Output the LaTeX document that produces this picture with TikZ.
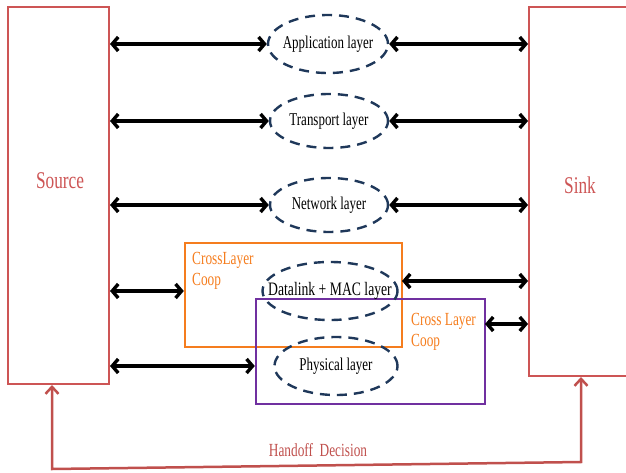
\documentclass[tikz,border=0pt]{standalone}
\usepackage{fontspec}
\setmainfont[FakeStretch=0.72]{Liberation Serif}
\usetikzlibrary{arrows.meta,shapes.geometric}
\definecolor{boxred}{RGB}{205,85,85}
\definecolor{hred}{RGB}{192,80,77}
\definecolor{corange}{RGB}{245,125,30}
\definecolor{cpurple}{RGB}{112,48,160}
\definecolor{navy}{RGB}{31,56,90}
\tikzset{
  endbox/.style={draw=boxred, line width=2pt, minimum width=101pt, minimum height=377pt, inner sep=0pt},
  endtext/.style={text=boxred, font=\fontsize{24}{26}\selectfont},
  layer/.style={ellipse, draw=navy, line width=2.4pt, dash pattern=on 10pt off 7pt, inner sep=0pt},
  layertext/.style={font=\fontsize{18}{20}\selectfont, text=black},
  arr/.style={black, line width=3.4pt, {Straight Barb[length=6pt,width=14pt]}-{Straight Barb[length=6pt,width=14pt]}},
  coopbox/.style={line width=2.4pt, inner sep=0pt},
  cooptext/.style={text=corange, align=left, anchor=north west, inner sep=0pt, font=\fontsize{18.5}{21}\selectfont},
  hand/.style={draw=hred, line width=2.5pt, {Straight Barb[length=7pt,width=13pt]}-{Straight Barb[length=7pt,width=13pt]}}
}
\begin{document}
\begin{tikzpicture}[x=1pt,y=-1pt]
\useasboundingbox (0,0) rectangle (626,473);
\clip (0,0) rectangle (626,473);
% end boxes
\node[endbox] (src) at (58.5,195.5) {};
\node[endtext] (srclbl) at (60,181) {Source};
\node[endbox, minimum width=120pt, minimum height=369pt] (snk) at (589,191.5) {};
\node[endtext] (snklbl) at (580,185) {Sink};
% cross layer boxes
\node[coopbox, draw=corange, minimum width=217pt, minimum height=104pt] (orange) at (293.5,295) {};
\node[coopbox, draw=cpurple, minimum width=229pt, minimum height=105pt] (purple) at (370.5,351.5) {};
\node[cooptext] (coop1) at (192,252) {CrossLayer\\Coop};
\node[cooptext] (coop2) at (411,313) {Cross Layer\\Coop};
% layers
\node[layer, minimum width=120pt, minimum height=58pt, label={[layertext]center:Application layer}] (app) at (328,44) {};
\node[layer, minimum width=118pt, minimum height=54pt, label={[layertext]center:Transport layer}] (trn) at (329,121) {};
\node[layer, minimum width=118pt, minimum height=54pt, label={[layertext]center:Network layer}] (net) at (329,205) {};
\node[layer, minimum width=135pt, minimum height=58pt, label={[layertext, font=\fontsize{19}{21}\selectfont]center:Datalink + MAC layer}] (dl) at (330,291) {};
\node[layer, minimum width=123pt, minimum height=58pt, label={[layertext]center:Physical layer}] (phy) at (336,366) {};
% arrows
\draw[arr] (app.west -| src.east) -- (app.west);
\draw[arr] (app.east) -- (app.east -| snk.west);
\draw[arr] (trn.west -| src.east) -- (trn.west);
\draw[arr] (trn.east) -- (trn.east -| snk.west);
\draw[arr] (net.west -| src.east) -- (net.west);
\draw[arr] (net.east) -- (net.east -| snk.west);
\draw[arr] (dl.west -| src.east) -- (dl.west -| orange.west);
\coordinate (r4) at (402,281);
\draw[arr] (r4) -- (r4 -| snk.west);
\draw[arr] (phy.west -| src.east) -- (phy.west -| purple.west);
\coordinate (r5) at (485,324);
\draw[arr] (r5) -- (r5 -| snk.west);
% handoff
\coordinate (hL) at (52,469);
\coordinate (hR) at (581,462);
\draw[hand] (hL |- src.south) -- (hL) -- (hR) -- (hR |- snk.south);
\node[text=hred, font=\fontsize{18.5}{20}\selectfont] (hlbl) at (318,450) {Handoff\ \ Decision};
\end{tikzpicture}
\end{document}
